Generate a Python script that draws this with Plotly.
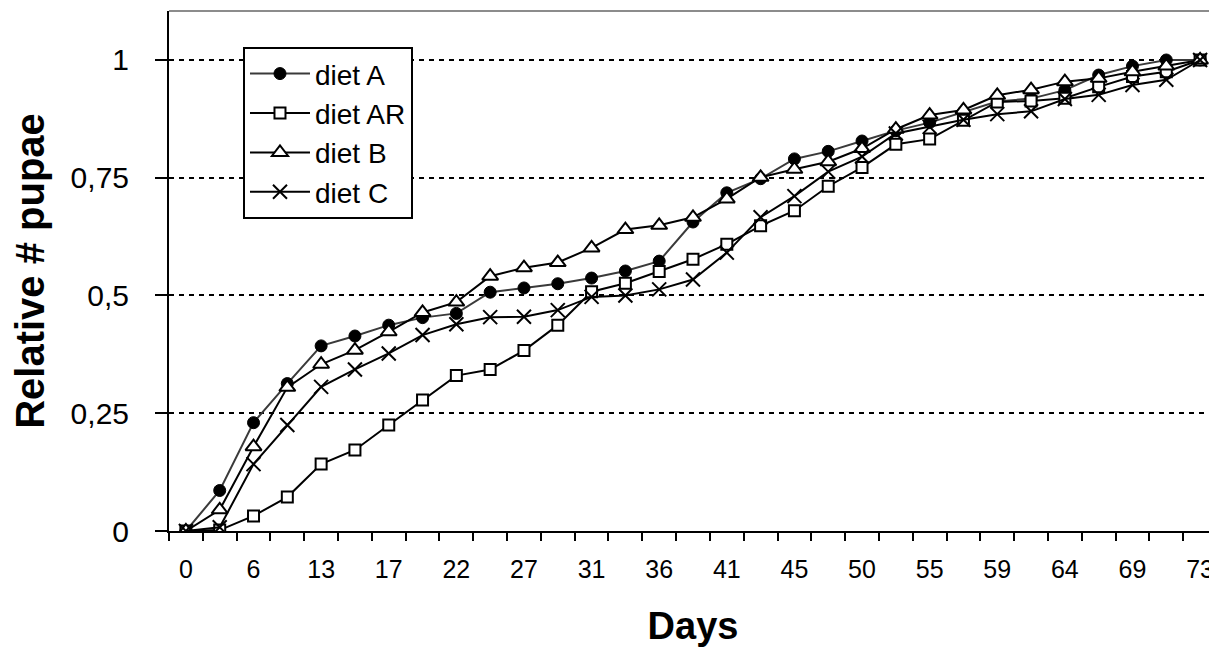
import plotly.graph_objects as go

days = [0, 3, 6, 10, 13, 15, 17, 20, 22, 24, 27, 29, 31, 34, 36, 38,
        41, 43, 45, 48, 50, 52, 55, 57, 59, 62, 64, 66, 69, 71, 73]
tick_labels = ["0", "6", "13", "17", "22", "27", "31", "36", "41", "45",
               "50", "55", "59", "64", "69", "73"]

diet_A = [0, 0.086, 0.23, 0.313, 0.393, 0.414, 0.437, 0.453, 0.462, 0.507, 0.516,
          0.525, 0.537, 0.552, 0.573, 0.656, 0.718, 0.748, 0.790, 0.806, 0.828,
          0.850, 0.867, 0.890, 0.912, 0.918, 0.936, 0.968, 0.987, 1.0, 1.0]
diet_AR = [0, 0.002, 0.032, 0.072, 0.142, 0.172, 0.225, 0.278, 0.330, 0.343, 0.383,
           0.437, 0.508, 0.526, 0.551, 0.577, 0.609, 0.648, 0.680, 0.732, 0.772,
           0.821, 0.832, 0.872, 0.911, 0.913, 0.919, 0.943, 0.965, 0.975, 1.0]
diet_B = [0, 0.045, 0.179, 0.305, 0.354, 0.384, 0.423, 0.464, 0.486, 0.541, 0.559,
          0.570, 0.601, 0.640, 0.649, 0.666, 0.705, 0.751, 0.768, 0.784, 0.812,
          0.853, 0.883, 0.894, 0.925, 0.937, 0.954, 0.961, 0.975, 0.987, 1.0]
diet_C = [0, 0.008, 0.142, 0.225, 0.306, 0.343, 0.377, 0.416, 0.439, 0.454, 0.455,
          0.469, 0.497, 0.500, 0.513, 0.534, 0.591, 0.666, 0.711, 0.763, 0.795,
          0.844, 0.858, 0.873, 0.885, 0.891, 0.917, 0.926, 0.947, 0.958, 1.0]

y_ticks = [0, 0.25, 0.5, 0.75, 1]
y_tick_text = ["0", "0,25", "0,5", "0,75", "1"]

x_pos = list(range(len(days)))
label_pos = [i for i, d in enumerate(days) if str(d) in tick_labels]

FONT = "Liberation Sans, Arial, sans-serif"

fig = go.Figure()

series = [
    ("diet A", diet_A, dict(symbol="circle", size=12, color="black",
                            line=dict(color="black", width=1)), "#3a3a3a"),
    ("diet AR", diet_AR, dict(symbol="square", size=11, color="white",
                              line=dict(color="black", width=2)), "black"),
    ("diet B", diet_B, dict(symbol="triangle-up", size=14, color="white",
                            line=dict(color="black", width=2)), "black"),
    ("diet C", diet_C, dict(symbol="x-thin", size=14, color="black",
                            line=dict(color="black", width=2)), "black"),
]

for name, vals, marker, lc in series:
    fig.add_trace(go.Scatter(
        x=x_pos, y=vals, name=name, mode="lines+markers",
        line=dict(color=lc, width=2), marker=marker,
        customdata=days, hovertemplate="Day %{customdata}: %{y}<extra>" + name + "</extra>",
    ))

fig.add_shape(type="line", xref="paper", yref="paper", x0=0, x1=1, y0=1, y1=1,
              line=dict(color="#8c8c8c", width=2))

# page body has an 8px margin, so the figure is 8px smaller (left/top margins shifted)
fig.update_layout(
    width=1209, height=639,
    margin=dict(l=161, r=0, t=3, b=116),
    paper_bgcolor="white", plot_bgcolor="white",
    font=dict(family=FONT, color="black"),
    showlegend=True,
    legend=dict(
        x=0.0706, y=0.931, xanchor="left", yanchor="top",
        bgcolor="white", bordercolor="black", borderwidth=2,
        font=dict(size=28, family=FONT, color="black"),
        itemwidth=60, tracegroupgap=0,
    ),
    xaxis=dict(
        range=[-0.5, len(days) - 0.5],
        tickmode="array", tickvals=label_pos, ticktext=tick_labels,
        ticks="", showgrid=False, zeroline=False,
        showline=True, linecolor="black", linewidth=2,
        tickfont=dict(size=25, family=FONT),
        ticklabelstandoff=15, automargin=False,
        minor=dict(ticks="outside", tick0=0.5, dtick=1, ticklen=8,
                   tickcolor="black", tickwidth=2, showgrid=False),
        title=dict(text="<b>Days</b>", font=dict(size=38, family=FONT), standoff=41),
    ),
    yaxis=dict(
        range=[0, 1.104],
        tickmode="array", tickvals=y_ticks, ticktext=y_tick_text,
        ticks="outside", ticklen=12, tickwidth=2, tickcolor="black",
        showgrid=True, gridcolor="black", gridwidth=2, griddash="5px,5px",
        zeroline=False,
        showline=True, linecolor="black", linewidth=2,
        tickfont=dict(size=30, family=FONT),
        ticklabelstandoff=20, automargin=False,
        title=dict(text="<b>Relative # pupae</b>", font=dict(size=40, family=FONT), standoff=22),
    ),
)

fig.write_html("out.html")
